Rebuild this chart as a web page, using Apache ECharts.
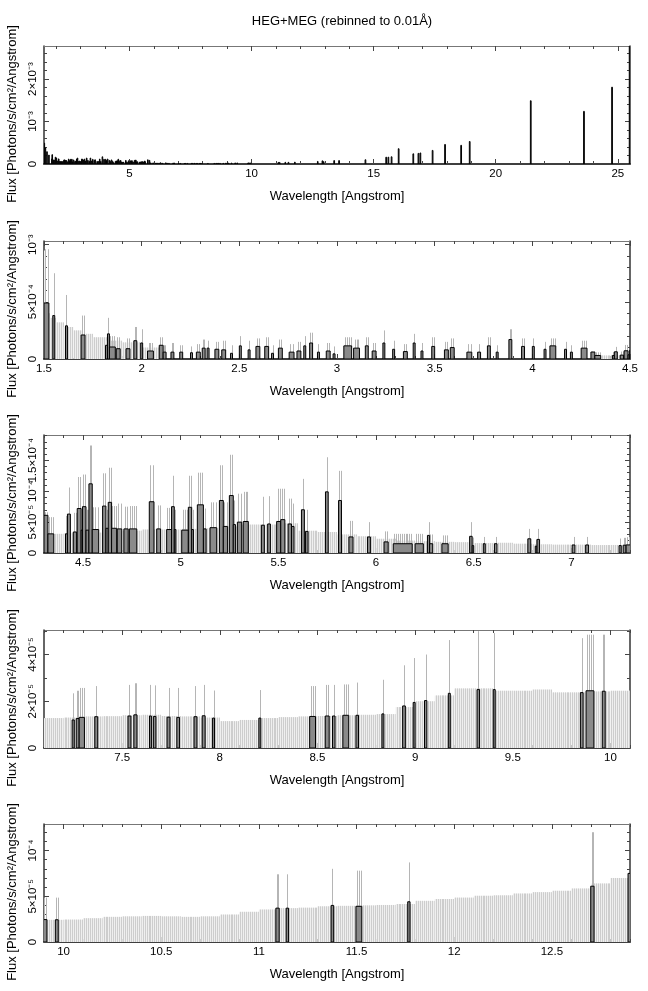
<!DOCTYPE html>
<html><head><meta charset="utf-8">
<script src="https://cdn.jsdelivr.net/npm/echarts@6/dist/echarts.min.js"></script>
<style>html,body{margin:0;padding:0;background:#fff}#c{width:648px;height:991px}</style>
</head><body><div id="c"></div>
<script>
// ---------------- DATA ----------------
// Spectrum bins with non-zero flux: [wavelength lo, wavelength hi, flux, upper error] (Photons/s/cm2/Angstrom)
const binsA = [ // 1.5 - 4.3 A
[1.500,1.525,4.9e-4,9.6e-4],[1.545,1.555,3.8e-4,7.5e-4],[1.610,1.620,2.9e-4,5.6e-4],[1.690,1.710,2.1e-4,3.8e-4],
[1.815,1.825,1.2e-4,2.0e-4],[1.825,1.835,2.2e-4,3.6e-4],[1.835,1.865,1.05e-4,2.0e-4],[1.870,1.890,0.9e-4,1.9e-4],
[1.920,1.940,0.9e-4,1.8e-4],[1.960,1.975,1.6e-4,2.8e-4],[1.995,2.005,1.4e-4,2.6e-4],[2.030,2.060,0.7e-4,1.4e-4],
[2.090,2.110,1.2e-4,1.9e-4],[2.110,2.125,0.6e-4,1.2e-4],[2.150,2.165,0.6e-4,1.4e-4],[2.195,2.210,0.6e-4,1.2e-4],
[2.250,2.260,0.55e-4,1.1e-4],[2.280,2.300,0.6e-4,1.3e-4],[2.310,2.325,0.95e-4,1.7e-4],[2.335,2.345,0.95e-4,1.6e-4],
[2.375,2.395,0.85e-4,1.5e-4],[2.410,2.430,0.8e-4,1.6e-4],[2.455,2.465,0.5e-4,1.2e-4],[2.500,2.510,1.15e-4,2.0e-4],
[2.545,2.555,0.8e-4,1.6e-4],[2.585,2.605,1.1e-4,1.8e-4],[2.630,2.650,1.1e-4,1.9e-4],[2.665,2.675,0.5e-4,1.2e-4],
[2.700,2.720,0.95e-4,1.7e-4],[2.755,2.780,0.6e-4,1.3e-4],[2.795,2.815,0.7e-4,1.5e-4],[2.830,2.840,1.15e-4,2.0e-4],
[2.860,2.875,1.4e-4,2.3e-4],[2.900,2.910,0.6e-4,1.3e-4],[2.945,2.965,0.7e-4,1.4e-4],[2.980,2.990,0.45e-4,1.1e-4],
[3.035,3.075,1.15e-4,1.9e-4],[3.085,3.115,0.95e-4,1.7e-4],[3.145,3.160,1.15e-4,1.9e-4],[3.180,3.200,0.7e-4,1.4e-4],
[3.235,3.245,1.4e-4,2.5e-4],[3.285,3.295,0.85e-4,1.6e-4],[3.340,3.360,0.65e-4,1.3e-4],[3.390,3.400,1.4e-4,2.2e-4],
[3.430,3.440,0.7e-4,1.4e-4],[3.485,3.500,1.1e-4,1.9e-4],[3.550,3.570,0.8e-4,1.5e-4],[3.580,3.600,1.0e-4,1.8e-4],
[3.665,3.690,0.6e-4,1.3e-4],[3.720,3.735,0.6e-4,1.3e-4],[3.770,3.785,1.15e-4,1.9e-4],[3.815,3.825,0.6e-4,1.2e-4],
[3.880,3.895,1.7e-4,2.6e-4],[3.945,3.960,1.1e-4,1.8e-4],[4.000,4.010,1.1e-4,1.8e-4],[4.060,4.070,0.85e-4,1.5e-4],
[4.090,4.120,1.15e-4,1.8e-4],[4.165,4.175,0.85e-4,1.5e-4],[4.195,4.205,0.6e-4,1.2e-4],[4.250,4.280,0.95e-4,1.6e-4]
];
const binsB = [ // 4.3 - 7.1 A
[4.300,4.320,6.1e-5,6.6e-5],[4.320,4.350,3.1e-5,5.8e-5],[4.410,4.420,3.1e-5,6.0e-5],[4.420,4.435,6.3e-5,10.6e-5],
[4.450,4.467,3.4e-5,6.5e-5],[4.470,4.490,7.2e-5,12.3e-5],[4.490,4.497,3.7e-5,7.0e-5],[4.497,4.515,7.5e-5,12.7e-5],
[4.515,4.530,3.7e-5,7.0e-5],[4.530,4.547,11.2e-5,17.4e-5],[4.547,4.580,3.8e-5,7.4e-5],[4.600,4.617,7.6e-5,12.9e-5],
[4.617,4.629,4.0e-5,7.0e-5],[4.629,4.646,8.2e-5,13.8e-5],[4.646,4.672,4.0e-5,7.6e-5],[4.675,4.698,3.9e-5,8.0e-5],
[4.709,4.731,3.9e-5,7.5e-5],[4.737,4.775,3.9e-5,7.6e-5],[4.839,4.863,8.3e-5,14.2e-5],[4.877,4.897,3.9e-5,7.7e-5],
[4.928,4.953,3.8e-5,7.3e-5],[4.953,4.967,7.5e-5,12.5e-5],[4.967,4.975,3.8e-5,7.0e-5],[5.005,5.039,3.7e-5,7.0e-5],
[5.039,5.056,7.4e-5,12.5e-5],[5.056,5.065,3.8e-5,7.0e-5],[5.085,5.116,7.8e-5,13.0e-5],[5.116,5.130,3.9e-5,7.2e-5],
[5.150,5.184,4.1e-5,8.2e-5],[5.198,5.218,8.5e-5,14.2e-5],[5.218,5.240,4.3e-5,8.2e-5],[5.249,5.269,9.3e-5,15.9e-5],
[5.269,5.280,4.6e-5,8.5e-5],[5.290,5.312,5.0e-5,9.6e-5],[5.320,5.346,5.1e-5,9.9e-5],[5.413,5.428,4.5e-5,9.1e-5],
[5.445,5.459,4.7e-5,9.2e-5],[5.491,5.512,5.1e-5,10.4e-5],[5.512,5.533,5.4e-5,10.4e-5],[5.550,5.567,4.7e-5,8.8e-5],
[5.567,5.580,4.3e-5,8.0e-5],[5.618,5.633,7.0e-5,12.0e-5],[5.639,5.652,3.5e-5,7.0e-5],[5.741,5.755,9.9e-5,15.5e-5],
[5.808,5.823,8.5e-5,13.3e-5],[5.861,5.882,2.6e-5,5.2e-5],[5.956,5.971,2.6e-5,5.0e-5],[6.041,6.062,1.8e-5,3.5e-5],
[6.088,6.185,1.5e-5,3.1e-5],[6.200,6.242,1.5e-5,3.1e-5],[6.263,6.274,2.85e-5,5.0e-5],[6.274,6.290,1.5e-5,3.0e-5],
[6.337,6.369,1.5e-5,2.85e-5],[6.479,6.492,2.7e-5,5.0e-5],[6.492,6.500,1.2e-5,2.5e-5],[6.549,6.559,1.5e-5,2.6e-5],
[6.606,6.619,1.5e-5,2.6e-5],[6.777,6.792,2.3e-5,3.9e-5],[6.815,6.824,1.1e-5,2.2e-5],[6.824,6.837,2.2e-5,3.9e-5],
[7.004,7.018,1.3e-5,2.6e-5],[7.073,7.088,1.3e-5,2.6e-5]
];
const binsC = [ // 7.1 - 10.1 A
[7.244,7.255,1.20e-5,2.34e-5],[7.265,7.280,1.26e-5,2.45e-5],[7.280,7.307,1.31e-5,2.57e-5],[7.360,7.375,1.34e-5,2.65e-5],
[7.530,7.545,1.37e-5,2.70e-5],[7.560,7.576,1.42e-5,2.77e-5],[7.640,7.650,1.37e-5,2.70e-5],[7.660,7.673,1.35e-5,2.68e-5],
[7.730,7.745,1.32e-5,2.57e-5],[7.780,7.794,1.31e-5,2.57e-5],[7.868,7.883,1.34e-5,2.65e-5],[7.910,7.925,1.38e-5,2.70e-5],
[7.963,7.973,1.28e-5,2.46e-5],[8.200,8.210,1.28e-5,2.48e-5],[8.460,8.490,1.35e-5,2.65e-5],[8.540,8.560,1.37e-5,2.70e-5],
[8.577,8.590,1.37e-5,2.70e-5],[8.630,8.660,1.40e-5,2.72e-5],[8.697,8.710,1.40e-5,2.80e-5],[8.830,8.840,1.46e-5,2.92e-5],
[8.936,8.950,1.80e-5,3.54e-5],[8.990,9.000,1.95e-5,3.85e-5],[9.048,9.060,2.03e-5,4.00e-5],[9.170,9.180,2.34e-5,4.62e-5],
[9.317,9.330,2.50e-5,5.00e-5],[9.400,9.410,2.50e-5,4.92e-5],[9.846,9.860,2.37e-5,4.70e-5],[9.875,9.915,2.45e-5,4.85e-5],
[9.958,9.973,2.43e-5,4.85e-5]
];
const binsD = [ // 9.9 - 12.9 A
[11.087,11.104,3.7e-5,7.4e-5],[11.140,11.152,3.7e-5,7.4e-5],[11.370,11.383,4.0e-5,8.0e-5],[11.497,11.527,3.9e-5,7.8e-5],
[11.762,11.774,4.4e-5,8.7e-5],[12.699,12.716,6.1e-5,12.0e-5],[12.890,12.910,7.5e-5,null]
];
const binsE = [ // long-wavelength lines, seen in the overview only
[12.94,12.96,5.5e-5,null],[13.37,13.40,8e-5,null],[13.57,13.60,8e-5,null],[14.65,14.68,1.0e-4,null],
[15.50,15.53,1.6e-4,null],[15.59,15.62,1.6e-4,null],[15.72,15.75,1.7e-4,null],[16.01,16.04,3.6e-4,null],
[16.61,16.64,2.4e-4,null],[16.82,16.85,2.5e-4,null],[16.90,16.93,2.6e-4,null],[17.40,17.43,3.2e-4,null],
[17.91,17.94,4.6e-4,null],[18.57,18.60,4.4e-4,null],[18.92,18.95,5.3e-4,null],[21.42,21.45,1.49e-3,null],
[23.60,23.63,1.24e-3,null],[24.75,24.78,1.81e-3,null],[25.47,25.50,3.0e-3,null]
];
// Upper error envelope of empty bins: [lo, hi, upper]
const envA = [
[1.50,1.51,9.5e-4],[1.51,1.53,4.0e-4],[1.53,1.56,3.6e-4],[1.56,1.60,3.2e-4],[1.60,1.65,2.8e-4],[1.65,1.70,2.5e-4],
[1.70,1.75,2.2e-4],[1.75,1.82,1.9e-4],[1.82,1.90,1.6e-4],[1.90,2.00,1.45e-4],[2.00,2.10,1.0e-4]
];
const envB = [
[4.30,4.40,3.1e-5],[4.40,4.50,3.2e-5],[4.50,4.60,3.3e-5],[4.60,4.70,3.5e-5],[4.70,4.80,3.6e-5],[4.80,4.90,3.8e-5],
[4.90,5.00,3.8e-5],[5.00,5.10,3.9e-5],[5.10,5.20,4.0e-5],[5.20,5.30,4.3e-5],[5.30,5.40,4.6e-5],[5.40,5.50,4.6e-5],
[5.50,5.60,4.8e-5],[5.60,5.70,3.6e-5],[5.70,5.80,3.4e-5],[5.80,5.90,3.0e-5],[5.90,6.00,2.7e-5],[6.00,6.10,2.3e-5],
[6.10,6.20,2.0e-5],[6.20,6.30,1.9e-5],[6.30,6.40,1.8e-5],[6.40,6.50,1.75e-5],[6.50,6.60,1.6e-5],[6.60,6.70,1.65e-5],
[6.70,6.80,1.5e-5],[6.80,6.90,1.4e-5],[6.90,7.00,1.35e-5],[7.00,7.10,1.35e-5],[7.10,7.20,1.28e-5]
];
const envC = [
[7.20,7.30,1.30e-5],[7.30,7.40,1.35e-5],[7.40,7.50,1.36e-5],[7.50,7.60,1.40e-5],[7.60,7.70,1.42e-5],[7.70,7.80,1.37e-5],
[7.80,7.90,1.35e-5],[7.90,8.00,1.30e-5],[8.00,8.10,1.15e-5],[8.10,8.20,1.20e-5],[8.20,8.30,1.28e-5],[8.30,8.40,1.32e-5],
[8.40,8.50,1.35e-5],[8.50,8.60,1.37e-5],[8.60,8.70,1.40e-5],[8.70,8.80,1.42e-5],[8.80,8.90,1.45e-5],[8.90,9.00,1.75e-5],
[9.00,9.10,2.00e-5],[9.10,9.20,2.25e-5],[9.20,9.30,2.55e-5],[9.30,9.40,2.55e-5],[9.40,9.50,2.45e-5],[9.50,9.60,2.45e-5],
[9.60,9.70,2.50e-5],[9.70,9.80,2.38e-5],[9.80,9.90,2.38e-5],[9.90,10.00,2.42e-5],[10.00,10.10,2.45e-5]
];
const envD = [
[10.10,10.20,2.6e-5],[10.20,10.30,2.75e-5],[10.30,10.40,2.8e-5],[10.40,10.50,2.85e-5],[10.50,10.60,2.8e-5],
[10.60,10.70,2.75e-5],[10.70,10.80,2.8e-5],[10.80,10.90,3.0e-5],[10.90,11.00,3.3e-5],[11.00,11.10,3.55e-5],
[11.10,11.20,3.7e-5],[11.20,11.30,3.75e-5],[11.30,11.40,3.9e-5],[11.40,11.50,3.95e-5],[11.50,11.60,4.0e-5],
[11.60,11.70,4.05e-5],[11.70,11.80,4.15e-5],[11.80,11.90,4.5e-5],[11.90,12.00,4.7e-5],[12.00,12.10,4.85e-5],
[12.10,12.20,5.05e-5],[12.20,12.30,5.1e-5],[12.30,12.40,5.3e-5],[12.40,12.50,5.45e-5],[12.50,12.60,5.6e-5],
[12.60,12.70,5.85e-5],[12.70,12.80,6.4e-5],[12.80,12.90,7.0e-5]
];
// Axis ticks and labels
const xTicks = [[5,10,15,20,25],[1.5,2,2.5,3,3.5,4,4.5],[4.5,5,5.5,6,6.5,7],[7.5,8,8.5,9,9.5,10],[10,10.5,11,11.5,12,12.5]];
const xTickLabels = [['5','10','15','20','25'],['1.5','2','2.5','3','3.5','4','4.5'],['4.5','5','5.5','6','6.5','7'],
  ['7.5','8','8.5','9','9.5','10'],['10','10.5','11','11.5','12','12.5']];
const yTicks = [[0,1e-3,2e-3],[0,5e-4,1e-3],[0,5e-5,1e-4,1.5e-4],[0,2e-5,4e-5],[0,5e-5,1e-4]];
const yTickLabels = [['0','10⁻³','2×10⁻³'],['0','5×10⁻⁴','10⁻³'],['0','5×10⁻⁵','10⁻⁴','1.5×10⁻⁴'],
  ['0','2×10⁻⁵','4×10⁻⁵'],['0','5×10⁻⁵','10⁻⁴']];
const xRanges = [[1.5,25.5],[1.5,4.5],[4.3,7.3],[7.1,10.1],[9.9,12.9]];
const yMax = [2.78e-3,1.032e-3,1.91e-4,5.05e-5,1.29e-4];
const xMinorStep = [1,0.1,0.1,0.1,0.1];
const yMinorStep = [2e-4,1e-4,1e-5,1e-5,1e-5];
const BIN = 0.01; // rebinned width (A)

// ---------------- CHART ----------------
const FONT = "'Liberation Sans', Arial, Helvetica, sans-serif";
const panelTop = [46, 241, 435, 630, 824];
const PH = 118;
const allBins = binsA.concat(binsB, binsC, binsD, binsE);
const allEnv = envA.concat(envB, envC, envD);

function minorList(lo, hi, step) {
  const out = [];
  for (let k = Math.ceil(lo / step - 1e-9); k * step <= hi + 1e-12; k++) out.push(+(k * step).toPrecision(10));
  return out;
}
function fmt(ticks, labels) {
  return function (v) {
    for (let i = 0; i < ticks.length; i++) if (Math.abs(ticks[i] - v) <= Math.abs(ticks[i]) * 1e-6 + 1e-12) return labels[i];
    return '';
  };
}

const grid = [], xAxis = [], yAxis = [], series = [];
for (let g = 0; g < 5; g++) {
  const [xmin, xmax] = xRanges[g];
  grid.push({ left: 44, right: 18, top: panelTop[g], height: PH, containLabel: false, outerBoundsMode: 'none' });
  const xb = xAxis.length, yb = yAxis.length;
  const xMin = minorList(xmin, xmax, xMinorStep[g]);
  const yMin = minorList(0, yMax[g], yMinorStep[g]);
  const yEven = yTicks[g].filter((v, i) => i % 2 === 0);
  const yOdd = yTicks[g].filter((v, i) => i % 2 === 1);
  const tickStyle = { color: '#444', width: 1 };
  const xa = (pos, major) => ({
    type: 'value', gridIndex: g, position: pos, min: xmin, max: xmax,
    axisLine: { show: major, onZero: false, lineStyle: pos === 'bottom' ? { color: '#000', width: 1.6 } : { color: '#777', width: 1 } },
    axisTick: { show: true, inside: true, length: major ? 5 : 3, customValues: major ? xTicks[g] : xMin, lineStyle: tickStyle },
    axisLabel: { show: major && pos === 'bottom', customValues: xTicks[g], formatter: fmt(xTicks[g], xTickLabels[g]),
      showMinLabel: true, showMaxLabel: true, hideOverlap: false,
      margin: 4, fontSize: 11.5, color: '#000', fontFamily: FONT },
    splitLine: { show: false },
    name: (major && pos === 'bottom') ? 'Wavelength [Angstrom]' : '',
    nameLocation: 'middle', nameGap: 26, nameTextStyle: { fontSize: 13, color: '#000', fontFamily: FONT }
  });
  xAxis.push(xa('bottom', true), xa('bottom', false), xa('top', true), xa('top', false));
  // left labels split across two axes (even / odd ticks) so that crowded labels are all kept, as in the original
  const ya = (pos, major) => ({
    type: 'value', gridIndex: g, position: pos, min: 0, max: yMax[g],
    axisLine: { show: major, onZero: false, lineStyle: { color: '#333', width: 1.5 } },
    axisTick: { show: true, inside: true, length: major ? 5 : 3, customValues: major ? yTicks[g] : yMin, lineStyle: tickStyle },
    axisLabel: { show: pos === 'left' && (major || yOdd.length > 0), customValues: major ? yEven : (yOdd.length ? yOdd : yEven),
      formatter: fmt(yTicks[g], yTickLabels[g]),
      showMinLabel: true, showMaxLabel: true, hideOverlap: false,
      rotate: 90, margin: 5, fontSize: 11.5, color: '#000', fontFamily: FONT },
    splitLine: { show: false },
    name: (major && pos === 'left') ? 'Flux [Photons/s/cm²/Angstrom]' : '',
    nameLocation: 'middle', nameGap: 20, nameTextStyle: { fontSize: 13, color: '#000', fontFamily: FONT, padding: [0, 18, 0, 0] }
  });
  yAxis.push(ya('left', true), ya('left', false), ya('right', true), ya('right', false));

  const inR = r => r[1] > xmin && r[0] < xmax;
  if (g > 0) {
    series.push({
      type: 'custom', xAxisIndex: xb, yAxisIndex: yb, clip: true, silent: true, z: 1,
      encode: { x: [0, 1], y: [2] },
      data: allEnv.filter(inR),
      renderItem: function (params, api) {
        const lo = api.value(0), hi = api.value(1), top = api.value(2);
        const a = api.coord([lo, 0]), b = api.coord([hi, top]);
        const children = [{ type: 'rect', shape: { x: a[0], y: b[1], width: b[0] - a[0], height: a[1] - b[1] }, style: { fill: '#efefef' } }];
        const n = Math.round((hi - lo) / BIN);
        for (let k = 0; k < n; k++) {
          const x = Math.round(api.coord([lo + (k + 0.5) * BIN, 0])[0]) + 0.5;
          children.push({ type: 'line', shape: { x1: x, y1: a[1], x2: x, y2: b[1] }, style: { stroke: '#cdcdcd', lineWidth: 1 } });
        }
        return { type: 'group', children };
      }
    });
    series.push({
      type: 'custom', xAxisIndex: xb, yAxisIndex: yb, clip: true, silent: true, z: 2,
      encode: { x: [0, 1], y: [2, 3] },
      data: allBins.filter(r => inR(r) && r[3] != null),
      renderItem: function (params, api) {
        const lo = api.value(0), hi = api.value(1), f = api.value(2), e = api.value(3);
        const n = Math.max(1, Math.round((hi - lo) / BIN));
        const step = (hi - lo) / n;
        const children = [];
        for (let k = 0; k < n; k++) {
          const xv = lo + (k + 0.5) * step;
          const p0 = api.coord([xv, f]), p1 = api.coord([xv, e]);
          const x = Math.round(p0[0]) + 0.5;
          children.push({ type: 'line', shape: { x1: x, y1: p0[1], x2: x, y2: p1[1] }, style: { stroke: '#b5b5b5', lineWidth: 1 } });
        }
        return { type: 'group', children };
      }
    });
  }
  series.push({
    type: 'custom', xAxisIndex: xb, yAxisIndex: yb, clip: true, silent: true, z: 3,
    encode: { x: [0, 1], y: [2] },
    data: allBins.filter(inR),
    renderItem: function (params, api) {
      const lo = api.value(0), hi = api.value(1), f = api.value(2);
      const a = api.coord([lo, 0]), b = api.coord([hi, f]);
      return { type: 'rect', shape: { x: a[0], y: b[1], width: Math.max(b[0] - a[0], 0.6), height: a[1] - b[1] },
        style: { fill: '#8a8a8a', stroke: '#000', lineWidth: 1 } };
    }
  });
}

const chart = echarts.init(document.getElementById('c'), null, { renderer: 'canvas' });
chart.setOption({
  animation: false,
  backgroundColor: '#fff',
  title: { text: 'HEG+MEG (rebinned to 0.01Å)', left: 337, top: 10, textAlign: 'center',
    textStyle: { fontSize: 13, fontWeight: 'normal', color: '#000', fontFamily: FONT } },
  grid, xAxis, yAxis, series
});
</script></body></html>
